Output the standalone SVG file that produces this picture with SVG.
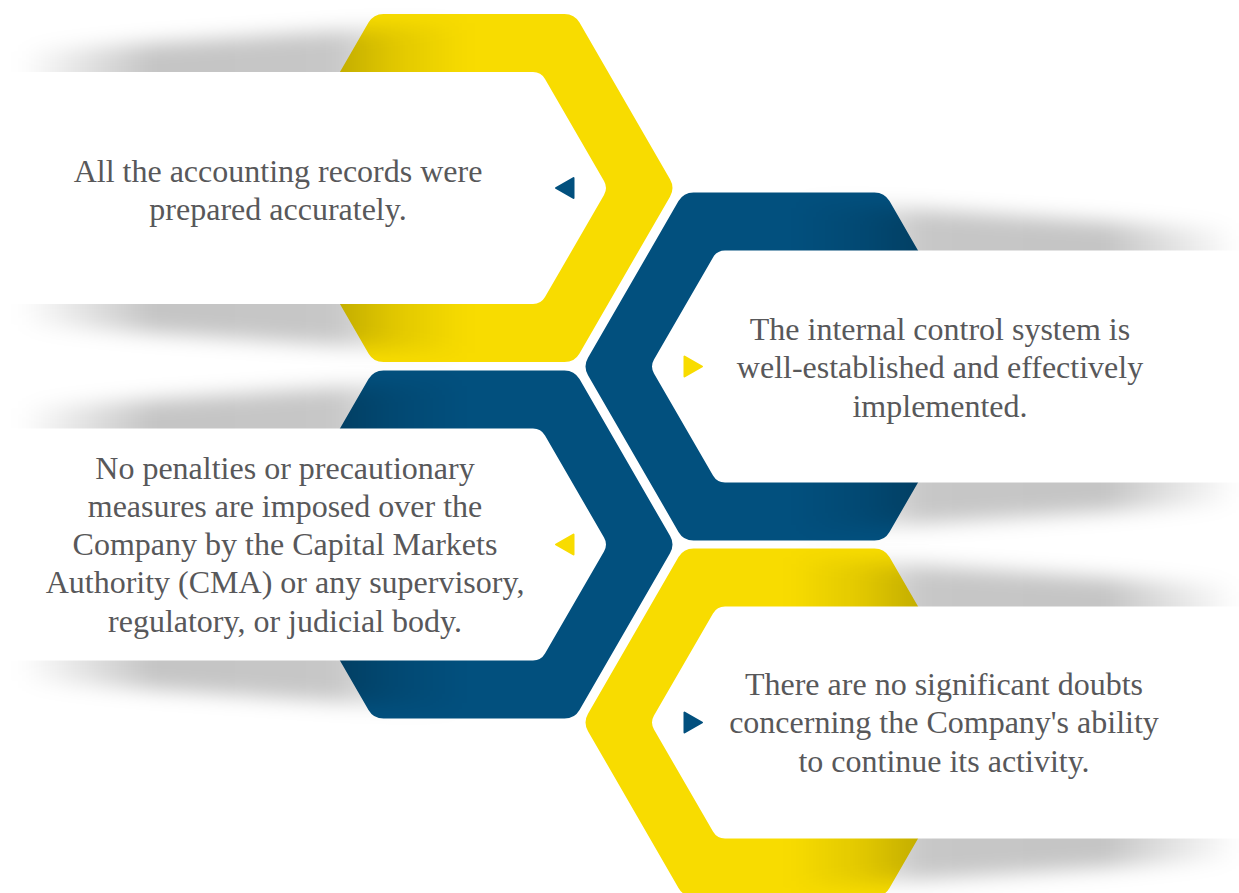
<svg xmlns="http://www.w3.org/2000/svg" xmlns:xlink="http://www.w3.org/1999/xlink" width="1239" height="893" viewBox="0 0 1239 893">
  <style>
    .yellow { fill: #F8DC00; }
    .blue { fill: #02507E; }
    .card { fill: #FFFFFF; }
    .shadow { fill: url(#shadeGrad); filter: url(#soft); }
    .tri-y { fill: #F8DC00; stroke: #F8DC00; stroke-width: 2; stroke-linejoin: round; }
    .tri-b { fill: #02507E; stroke: #02507E; stroke-width: 2; stroke-linejoin: round; }
    .label { font-family: "Liberation Serif", "Times New Roman", serif; font-size: 32px; fill: #58585A; text-anchor: middle; }
  </style>
  <defs>
    <!-- flat-top hexagon, circumradius 201, rounded corners -->
    <path id="hex" d="M196,8.66 L105.5,165.41 Q100.5,174.07 90.5,174.07 L-90.5,174.07 Q-100.5,174.07 -105.5,165.41 L-196,8.66 Q-201,0 -196,-8.66 L-105.5,-165.41 Q-100.5,-174.07 -90.5,-174.07 L90.5,-174.07 Q100.5,-174.07 105.5,-165.41 L196,-8.66 Q201,0 196,8.66 Z"/>
    <!-- white card: long bar ending in a half hexagon (inner radius 134) -->
    <path id="card" d="M-520,-116.05 L59,-116.05 Q67,-116.05 71,-109.12 L130,-6.93 Q134,0 130,6.93 L71,109.12 Q67,116.05 59,116.05 L-520,116.05 Z"/>
    <!-- soft wedge of shade behind each card, widening toward the hexagon -->
    <polygon id="shade" points="-455,-136 -5,-166 -5,166 -455,136"/>
    <polygon id="tri" points="82,0 99.5,-10 99.5,10"/>
    <linearGradient id="shadeGrad" x1="0" y1="0" x2="1" y2="0">
      <stop offset="0" stop-color="#000" stop-opacity="0"/>
      <stop offset="0.3" stop-color="#000" stop-opacity="0.23"/>
      <stop offset="0.7" stop-color="#000" stop-opacity="0.22"/>
      <stop offset="0.84" stop-color="#000" stop-opacity="0.09"/>
      <stop offset="1" stop-color="#000" stop-opacity="0"/>
    </linearGradient>
    <filter id="soft" x="-20%" y="-30%" width="140%" height="160%">
      <feGaussianBlur stdDeviation="10"/>
    </filter>
  </defs>

  <!-- step 1 -->
  <g id="node-records">
    <use xlink:href="#hex" class="yellow" transform="translate(474,188)"/>
    <use xlink:href="#shade" class="shadow" transform="translate(474,188)"/>
    <use xlink:href="#card" class="card" transform="translate(474,188)"/>
    <use xlink:href="#tri" class="tri-b" transform="translate(474,188)"/>
    <text class="label" x="278" y="182">All the accounting records were</text>
    <text class="label" x="278" y="220">prepared accurately.</text>
  </g>

  <!-- step 2 -->
  <g id="node-control">
    <use xlink:href="#hex" class="blue" transform="translate(784,366.5)"/>
    <use xlink:href="#shade" class="shadow" transform="translate(784,366.5) scale(-1,1)"/>
    <use xlink:href="#card" class="card" transform="translate(784,366.5) scale(-1,1)"/>
    <use xlink:href="#tri" class="tri-y" transform="translate(784,366.5) scale(-1,1)"/>
    <text class="label" x="940" y="340">The internal control system is</text>
    <text class="label" x="940" y="378.3">well-established and effectively</text>
    <text class="label" x="940" y="416.6">implemented.</text>
  </g>

  <!-- step 3 -->
  <g id="node-penalties">
    <use xlink:href="#hex" class="blue" transform="translate(474,544.5)"/>
    <use xlink:href="#shade" class="shadow" transform="translate(474,544.5)"/>
    <use xlink:href="#card" class="card" transform="translate(474,544.5)"/>
    <use xlink:href="#tri" class="tri-y" transform="translate(474,544.5)"/>
    <text class="label" x="285" y="478.5">No penalties or precautionary</text>
    <text class="label" x="285" y="516.8">measures are imposed over the</text>
    <text class="label" x="285" y="555.1">Company by the Capital Markets</text>
    <text class="label" x="285" y="593.4">Authority (CMA) or any supervisory,</text>
    <text class="label" x="285" y="631.7">regulatory, or judicial body.</text>
  </g>

  <!-- step 4 -->
  <g id="node-continuity">
    <use xlink:href="#hex" class="yellow" transform="translate(784,722.5)"/>
    <use xlink:href="#shade" class="shadow" transform="translate(784,722.5) scale(-1,1)"/>
    <use xlink:href="#card" class="card" transform="translate(784,722.5) scale(-1,1)"/>
    <use xlink:href="#tri" class="tri-b" transform="translate(784,722.5) scale(-1,1)"/>
    <text class="label" x="944" y="695">There are no significant doubts</text>
    <text class="label" x="944" y="733.3">concerning the Company's ability</text>
    <text class="label" x="944" y="771.6">to continue its activity.</text>
  </g>
</svg>
